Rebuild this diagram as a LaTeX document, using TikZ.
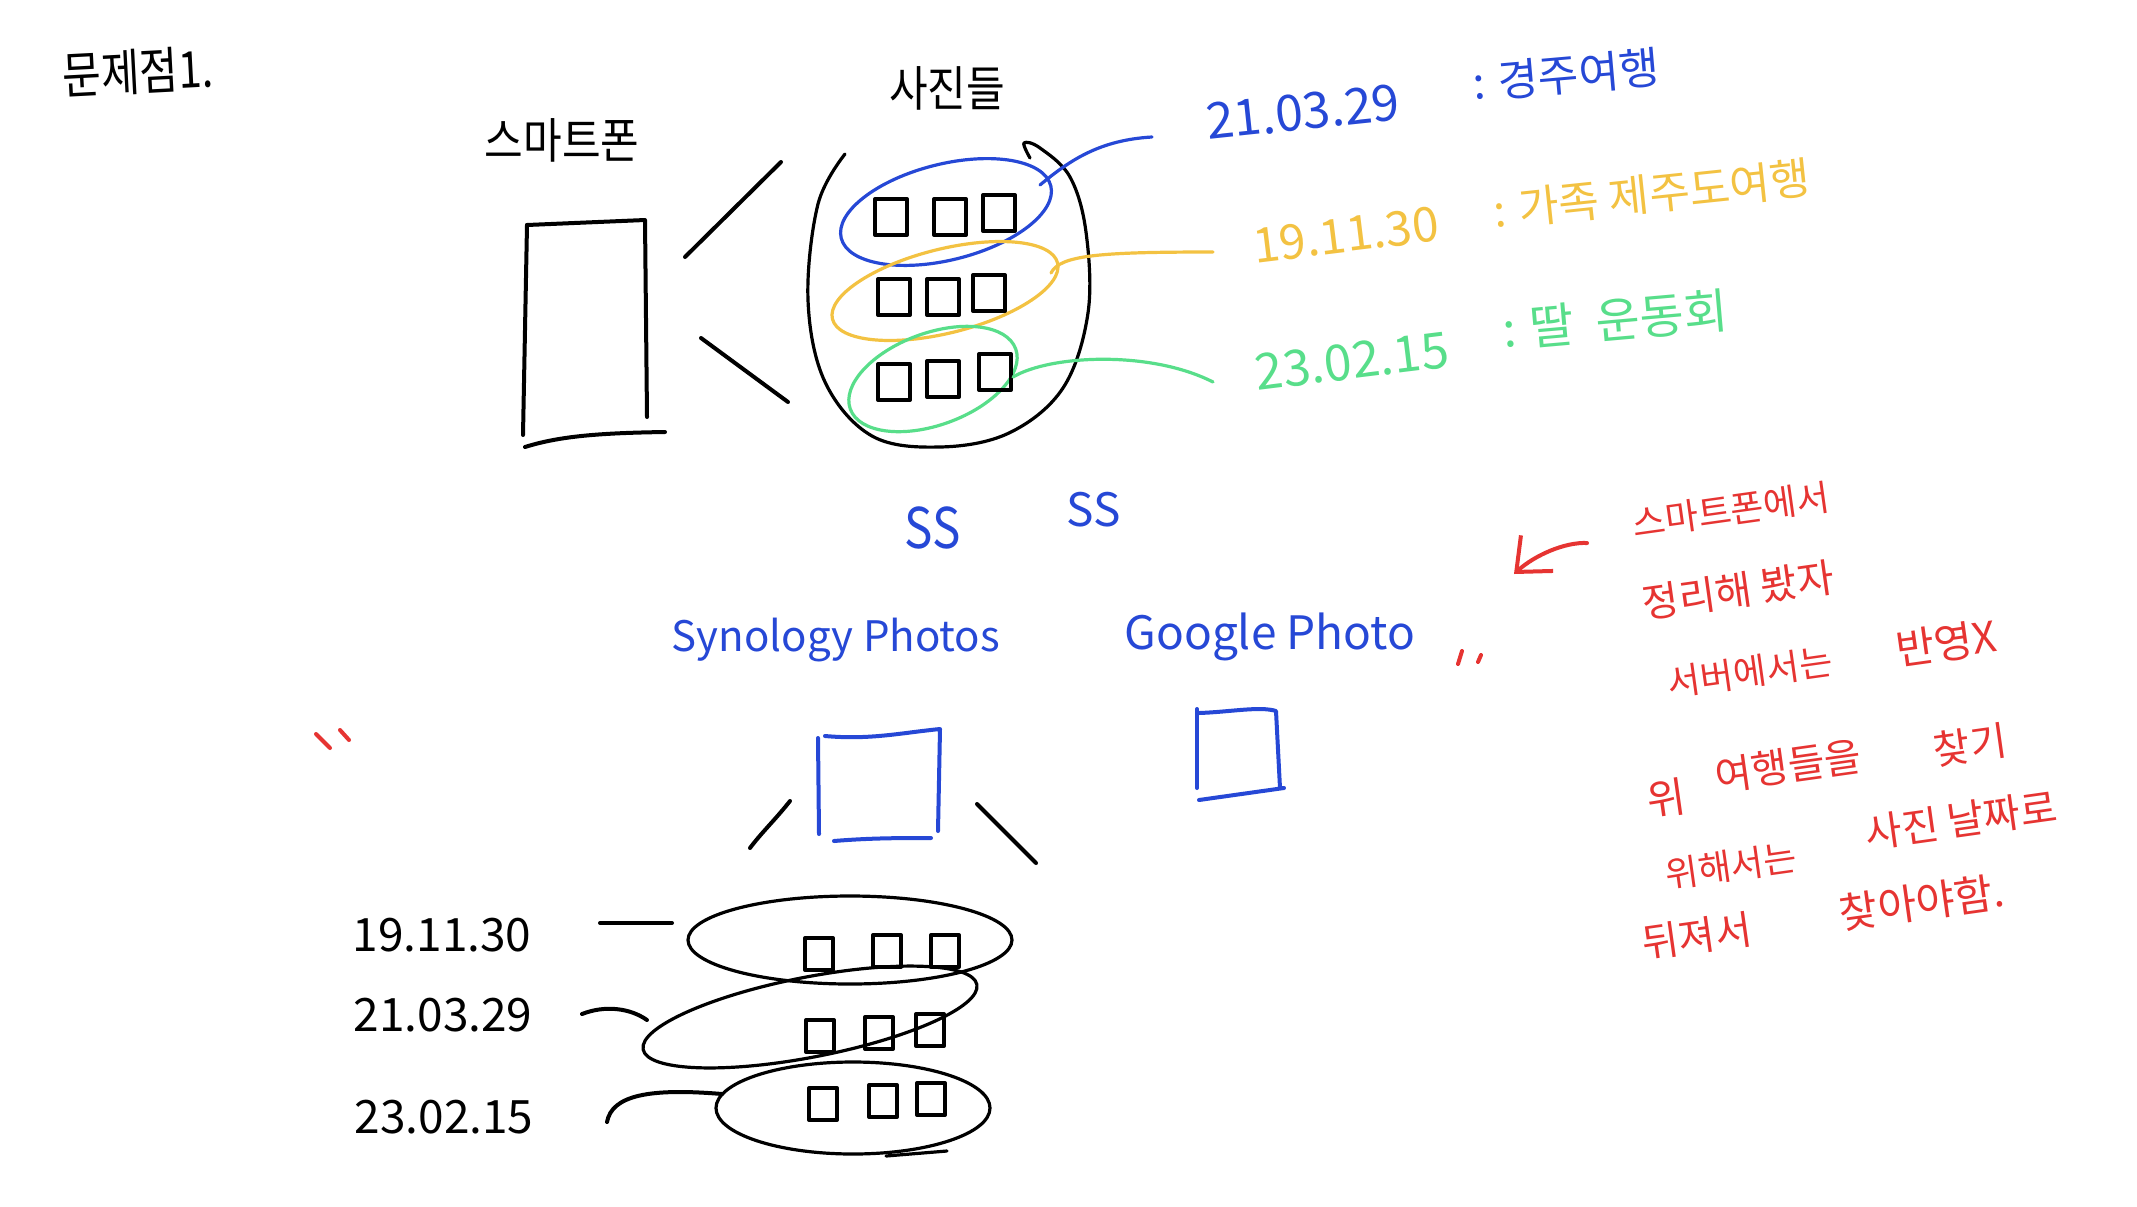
\documentclass[tikz,border=0pt]{standalone}
\usepackage{fontspec}
\setmainfont{Noto Sans CJK KR}
\usetikzlibrary{arrows.meta}
\definecolor{penblue}{RGB}{38,72,214}
\definecolor{penyellow}{RGB}{243,194,66}
\definecolor{pengreen}{RGB}{88,222,138}
\definecolor{penred}{RGB}{230,52,50}
\begin{document}
\begin{tikzpicture}[x=0.5pt,y=-0.5pt,
  pen/.style={line width=2pt,line cap=round,line join=round},
  finepen/.style={line width=1.6pt,line cap=round,line join=round},
  lbl/.style={inner sep=0pt,anchor=center},
  note/.style={lbl,penred,rotate=8},
  sq/.pic={\draw[pen] (-16,-18) rectangle (16,18);},
  sqs/.pic={\draw[pen] (-14,-16) rectangle (14,16);}
  ]
\fill[white] (0,0) rectangle (2137,1206);
\useasboundingbox (0,0) rectangle (2137,1206);

% ---- titles
\node[lbl,font=\fontsize{21}{24}\selectfont,rotate=3,yscale=1.2] (title) at (138,72) {문제점1.};
\node[lbl,font=\fontsize{21}{24}\selectfont,yscale=1.15] (phonelbl) at (562,140) {스마트폰};
\node[lbl,font=\fontsize{21}{24}\selectfont,yscale=1.15] (photoslbl) at (947,88) {사진들};

% ---- phone
\draw[pen] (527,225) -- (523,435);
\draw[pen] (527,225) -- (645,220) -- (647,417);
\draw[pen] (525,447) .. controls (560,436) and (600,433) .. (665,432);
\draw[pen] (781,162) -- (685,257);
\draw[pen] (701,338) -- (788,402);

% ---- photo cloud
\draw[finepen] plot[smooth,tension=0.6] coordinates {(845,154) (818,204) (808,300) (825,382) (872,436) (940,447) (1009,433) (1063,388) (1088,313) (1086,232) (1070,177) (1040,148) (1024,143) (1030,158)};

% coloured groups
\draw[finepen,penblue,rotate around={14:(946,212)}] (946,212) ellipse [x radius=108, y radius=48];
\draw[finepen,penyellow,rotate around={14:(945,291)}] (945,291) ellipse [x radius=116, y radius=42];
\draw[finepen,pengreen,rotate around={20:(933,379)}] (933,379) ellipse [x radius=88, y radius=46];

\pic at (891,217) {sq}; \pic at (950,217) {sq}; \pic at (999,213) {sq};
\pic at (894,297) {sq}; \pic at (943,297) {sq}; \pic at (989,293) {sq};
\pic at (894,382) {sq}; \pic at (943,379) {sq}; \pic at (995,372) {sq};

% ---- dated labels
\node[lbl,penblue,font=\fontsize{25}{28}\selectfont,rotate=6] (d1) at (1303,112) {21.03.29};
\node[lbl,penblue,font=\fontsize{22}{26}\selectfont,rotate=5] (t1) at (1566,75) {: 경주여행};
\node[lbl,penyellow,font=\fontsize{24}{28}\selectfont,rotate=7] (d2) at (1346,235) {19.11.30};
\node[lbl,penyellow,font=\fontsize{22}{26}\selectfont,rotate=6] (t2) at (1652,194) {: 가족 제주도여행};
\node[lbl,pengreen,font=\fontsize{25}{28}\selectfont,rotate=7] (d3) at (1352,361) {23.02.15};
\node[lbl,pengreen,font=\fontsize{24}{26}\selectfont,rotate=5] (t3) at (1615,320) {: 딸\ \ 운동회};

\coordinate (c1) at (1152,137);
\coordinate (c2) at (1213,252);
\coordinate (c3) at (1213,382);
\draw[finepen,penblue] (1040,185) .. controls (1070,160) and (1100,140) .. (c1);
\draw[finepen,penyellow] (1051,273) .. controls (1060,255) and (1100,252) .. (c2);
\draw[finepen,pengreen] (1013,377) .. controls (1050,355) and (1150,350) .. (c3);

% ---- servers
\node[lbl,penblue,font=\fontsize{28}{30}\selectfont,xscale=0.85] (ss1) at (933,528) {SS};
\node[lbl,penblue,font=\fontsize{23}{26}\selectfont] (ss2) at (1094,510) {SS};
\node[lbl,penblue,font=\fontsize{21}{26}\selectfont] (syn) at (836,640) {Synology Photos};
\node[lbl,penblue,font=\fontsize{23}{26}\selectfont] (goo) at (1270,637) {Google Photo};

\draw[pen,penblue] (818,738) -- (819,834);
\draw[pen,penblue] (825,736) .. controls (870,740) and (900,733) .. (940,729) -- (938,831);
\draw[pen,penblue] (834,841) .. controls (870,838) and (900,838) .. (931,838);
\draw[pen] (790,801) .. controls (775,820) and (762,832) .. (750,848);
\draw[pen] (977,804) -- (1036,863);

\draw[pen,penblue] (1197,709) -- (1197,788);
\draw[pen,penblue] (1199,713) .. controls (1230,712) and (1260,706) .. (1276,711) -- (1280,788);
\draw[pen,penblue] (1199,800) -- (1284,788);

% ---- quote marks
\draw[pen,penred] (316,734) -- (330,748);
\draw[pen,penred] (340,730) -- (349,740);
\draw[pen,penred] (1462,651) -- (1458,664);
\draw[pen,penred] (1481,655) -- (1478,662);

% ---- red note
\coordinate (arrowtip) at (1514,574);
\draw[pen,penred,-{Straight Barb[length=14pt,width=24pt]}] (1587,543) .. controls (1565,542) and (1535,555) .. (arrowtip);
\node[note,font=\fontsize{18}{22}\selectfont] (r1) at (1731,510) {스마트폰에서};
\node[note,font=\fontsize{20}{24}\selectfont] (r2) at (1738,590) {정리해 봤자};
\node[note,font=\fontsize{18}{22}\selectfont] (r3a) at (1750,672) {서버에서는};
\node[note,font=\fontsize{21}{24}\selectfont] (r3b) at (1946,643) {반영X};
\node[note,font=\fontsize{21}{24}\selectfont] (r4a) at (1666,798) {위};
\node[note,font=\fontsize{20}{24}\selectfont] (r4b) at (1788,766) {여행들을};
\node[note,font=\fontsize{20}{24}\selectfont] (r4c) at (1970,745) {찾기};
\node[note,font=\fontsize{18}{22}\selectfont] (r5a) at (1731,866) {위해서는};
\node[note,font=\fontsize{20}{24}\selectfont] (r5b) at (1961,820) {사진 날짜로};
\node[note,font=\fontsize{20}{24}\selectfont] (r6a) at (1697,936) {뒤져서};
\node[note,font=\fontsize{21}{24}\selectfont] (r6b) at (1922,902) {찾아야함.};

% ---- lower-left groups
\node[lbl,font=\fontsize{23}{26}\selectfont] (l1) at (442,935) {19.11.30};
\node[lbl,font=\fontsize{23}{26}\selectfont] (l2) at (443,1015) {21.03.29};
\node[lbl,font=\fontsize{23}{26}\selectfont] (l3) at (444,1117) {23.02.15};

\draw[finepen] (850,940) ellipse [x radius=162, y radius=44];
\draw[finepen,rotate around={11:(810,1017)}] (810,1017) ellipse [x radius=170, y radius=40];
\draw[finepen] (853,1108) ellipse [x radius=137, y radius=46];
\draw[finepen] (886,1156) -- (947,1151);

\pic at (819,954) {sqs}; \pic at (887,951) {sqs}; \pic at (945,951) {sqs};
\pic at (820,1036) {sqs}; \pic at (879,1033) {sqs}; \pic at (930,1030) {sqs};
\pic at (823,1104) {sqs}; \pic at (883,1101) {sqs}; \pic at (931,1099) {sqs};

\coordinate (e1) at (672,923);
\coordinate (e2) at (647,1020);
\coordinate (e3) at (722,1094);
\draw[pen] (600,923) -- (e1);
\draw[pen] (582,1014) .. controls (605,1005) and (630,1008) .. (e2);
\draw[pen] (607,1122) .. controls (612,1095) and (650,1088) .. (e3);
\end{tikzpicture}
\end{document}
